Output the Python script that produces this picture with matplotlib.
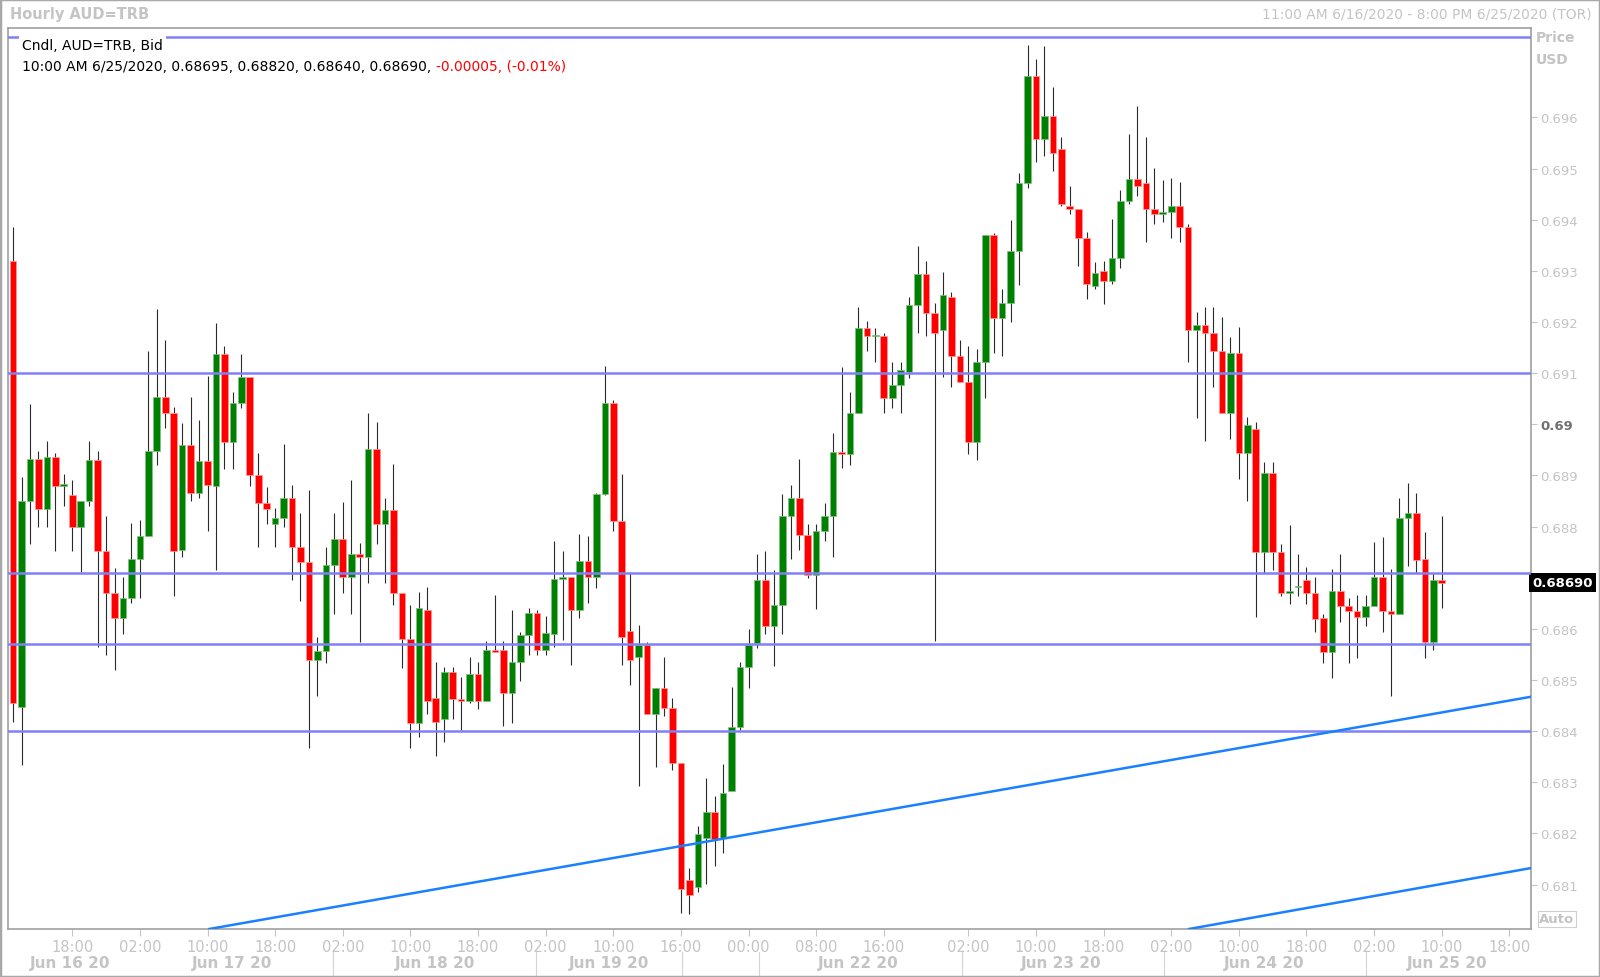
import matplotlib
matplotlib.use('Agg')
import matplotlib.pyplot as plt
import matplotlib.transforms as mtransforms
from matplotlib.patches import Rectangle
import numpy as np

# hourly candles, AUD=TRB, from 11:00 6/16/2020
opens = [
    0.69319, 0.68448, 0.68850, 0.68932, 0.68835, 0.68937, 0.68880, 0.68862, 0.68800, 0.68850,
    0.68931, 0.68752, 0.68671, 0.68621, 0.68660, 0.68737, 0.68781, 0.68947, 0.69054, 0.69023,
    0.68754, 0.68959, 0.68866, 0.68928, 0.68880, 0.69138, 0.68966, 0.69042, 0.69093, 0.68901,
    0.68847, 0.68805, 0.68817, 0.68856, 0.68760, 0.68731, 0.68539, 0.68556, 0.68725, 0.68776,
    0.68701, 0.68746, 0.68740, 0.68952, 0.68805, 0.68833, 0.68670, 0.68580, 0.68415, 0.68636,
    0.68464, 0.68423, 0.68515, 0.68463, 0.68459, 0.68511, 0.68459, 0.68559, 0.68559, 0.68475,
    0.68536, 0.68587, 0.68631, 0.68559, 0.68590, 0.68697, 0.68701, 0.68636, 0.68732, 0.68701,
    0.68863, 0.69042, 0.68811, 0.68595, 0.68544, 0.68568, 0.68434, 0.68484, 0.68446, 0.68338,
    0.68108, 0.68096, 0.68191, 0.68242, 0.68191, 0.68282, 0.68408, 0.68525, 0.68572, 0.68695,
    0.68605, 0.68646, 0.68821, 0.68856, 0.68783, 0.68705, 0.68791, 0.68821, 0.68946, 0.68942,
    0.69022, 0.69188, 0.69172, 0.69172, 0.69052, 0.69077, 0.69102, 0.69234, 0.69294, 0.69218,
    0.69184, 0.69249, 0.69133, 0.69083, 0.68966, 0.69122, 0.69370, 0.69207, 0.69238, 0.69339,
    0.69471, 0.69681, 0.69558, 0.69603, 0.69538, 0.69427, 0.69421, 0.69365, 0.69270, 0.69299,
    0.69280, 0.69325, 0.69436, 0.69480, 0.69472, 0.69421, 0.69412, 0.69415, 0.69427, 0.69386,
    0.69185, 0.69194, 0.69179, 0.69144, 0.69023, 0.69139, 0.68944, 0.68990, 0.68750, 0.68905,
    0.68750, 0.68670, 0.68681, 0.68695, 0.68671, 0.68621, 0.68555, 0.68674, 0.68645, 0.68635,
    0.68623, 0.68645, 0.68702, 0.68635, 0.68629, 0.68816, 0.68826, 0.68736, 0.68575, 0.68695,
]
highs = [
    0.69385, 0.68897, 0.69039, 0.68947, 0.68968, 0.68943, 0.68902, 0.68892, 0.68850, 0.68968,
    0.68947, 0.68821, 0.68719, 0.68702, 0.68807, 0.68812, 0.69143, 0.69225, 0.69164, 0.69033,
    0.69003, 0.69054, 0.69009, 0.69095, 0.69199, 0.69154, 0.69063, 0.69138, 0.69093, 0.68943,
    0.68878, 0.68837, 0.68962, 0.68881, 0.68827, 0.68871, 0.68585, 0.68761, 0.68827, 0.68849,
    0.68892, 0.68767, 0.69023, 0.69004, 0.68856, 0.68923, 0.68670, 0.68646, 0.68672, 0.68682,
    0.68536, 0.68526, 0.68526, 0.68505, 0.68544, 0.68536, 0.68577, 0.68667, 0.68577, 0.68636,
    0.68594, 0.68640, 0.68636, 0.68626, 0.68771, 0.68752, 0.68701, 0.68786, 0.68782, 0.68865,
    0.69114, 0.69048, 0.68902, 0.68710, 0.68607, 0.68575, 0.68484, 0.68544, 0.68465, 0.68338,
    0.68133, 0.68214, 0.68309, 0.68274, 0.68335, 0.68486, 0.68535, 0.68600, 0.68746, 0.68752,
    0.68716, 0.68863, 0.68881, 0.68932, 0.68806, 0.68806, 0.68847, 0.68983, 0.69113, 0.69063,
    0.69230, 0.69203, 0.69189, 0.69178, 0.69122, 0.69122, 0.69249, 0.69349, 0.69319, 0.69238,
    0.69298, 0.69259, 0.69164, 0.69154, 0.69148, 0.69370, 0.69374, 0.69265, 0.69399, 0.69491,
    0.69741, 0.69715, 0.69740, 0.69660, 0.69561, 0.69466, 0.69421, 0.69376, 0.69317, 0.69320,
    0.69401, 0.69458, 0.69568, 0.69622, 0.69561, 0.69502, 0.69478, 0.69481, 0.69473, 0.69392,
    0.69219, 0.69230, 0.69230, 0.69210, 0.69171, 0.69190, 0.69015, 0.69005, 0.68926, 0.68926,
    0.68765, 0.68804, 0.68746, 0.68720, 0.68702, 0.68630, 0.68717, 0.68746, 0.68660, 0.68666,
    0.68666, 0.68770, 0.68780, 0.68717, 0.68855, 0.68886, 0.68865, 0.68790, 0.68710, 0.68820,
]
lows = [
    0.68418, 0.68333, 0.68766, 0.68799, 0.68799, 0.68752, 0.68840, 0.68752, 0.68712, 0.68841,
    0.68564, 0.68549, 0.68519, 0.68590, 0.68650, 0.68660, 0.68781, 0.68921, 0.68992, 0.68664,
    0.68740, 0.68850, 0.68856, 0.68792, 0.68716, 0.68912, 0.68912, 0.69032, 0.68880, 0.68760,
    0.68805, 0.68760, 0.68799, 0.68695, 0.68655, 0.68367, 0.68469, 0.68534, 0.68630, 0.68670,
    0.68630, 0.68575, 0.68690, 0.68765, 0.68690, 0.68646, 0.68524, 0.68367, 0.68389, 0.68433,
    0.68352, 0.68378, 0.68423, 0.68402, 0.68454, 0.68444, 0.68459, 0.68555, 0.68410, 0.68415,
    0.68498, 0.68549, 0.68549, 0.68549, 0.68564, 0.68579, 0.68529, 0.68621, 0.68650, 0.68680,
    0.68862, 0.68791, 0.68529, 0.68490, 0.68293, 0.68434, 0.68330, 0.68429, 0.68323, 0.68045,
    0.68042, 0.68085, 0.68101, 0.68137, 0.68161, 0.68282, 0.68403, 0.68484, 0.68563, 0.68590,
    0.68528, 0.68590, 0.68736, 0.68755, 0.68700, 0.68639, 0.68771, 0.68740, 0.68915, 0.68921,
    0.69022, 0.69143, 0.69121, 0.69022, 0.69032, 0.69022, 0.69091, 0.69178, 0.69172, 0.68576,
    0.69092, 0.69073, 0.69083, 0.68941, 0.68931, 0.69052, 0.69140, 0.69133, 0.69201, 0.69272,
    0.69463, 0.69513, 0.69525, 0.69496, 0.69426, 0.69412, 0.69310, 0.69245, 0.69265, 0.69236,
    0.69275, 0.69305, 0.69430, 0.69446, 0.69356, 0.69392, 0.69396, 0.69365, 0.69356, 0.69122,
    0.69012, 0.68968, 0.69073, 0.69023, 0.68972, 0.68894, 0.68850, 0.68624, 0.68710, 0.68715,
    0.68664, 0.68649, 0.68664, 0.68649, 0.68593, 0.68534, 0.68504, 0.68614, 0.68534, 0.68543,
    0.68605, 0.68645, 0.68593, 0.68469, 0.68629, 0.68723, 0.68710, 0.68543, 0.68558, 0.68640,
]
closes = [
    0.68454, 0.68850, 0.68932, 0.68835, 0.68937, 0.68880, 0.68880, 0.68800, 0.68850, 0.68931,
    0.68752, 0.68671, 0.68621, 0.68661, 0.68737, 0.68781, 0.68947, 0.69054, 0.69023, 0.68752,
    0.68959, 0.68866, 0.68928, 0.68881, 0.69138, 0.68966, 0.69042, 0.69093, 0.68901, 0.68847,
    0.68835, 0.68817, 0.68856, 0.68760, 0.68731, 0.68539, 0.68556, 0.68725, 0.68776, 0.68701,
    0.68746, 0.68740, 0.68952, 0.68805, 0.68833, 0.68670, 0.68580, 0.68415, 0.68640, 0.68459,
    0.68418, 0.68515, 0.68462, 0.68459, 0.68511, 0.68459, 0.68559, 0.68555, 0.68475, 0.68536,
    0.68587, 0.68631, 0.68559, 0.68592, 0.68697, 0.68701, 0.68636, 0.68732, 0.68701, 0.68863,
    0.69042, 0.68811, 0.68585, 0.68540, 0.68568, 0.68434, 0.68484, 0.68446, 0.68338, 0.68092,
    0.68080, 0.68198, 0.68242, 0.68189, 0.68278, 0.68408, 0.68525, 0.68568, 0.68695, 0.68605,
    0.68646, 0.68821, 0.68856, 0.68783, 0.68705, 0.68791, 0.68821, 0.68946, 0.68942, 0.69022,
    0.69188, 0.69172, 0.69172, 0.69052, 0.69077, 0.69106, 0.69234, 0.69294, 0.69217, 0.69178,
    0.69253, 0.69133, 0.69083, 0.68966, 0.69122, 0.69370, 0.69207, 0.69238, 0.69339, 0.69471,
    0.69681, 0.69558, 0.69603, 0.69531, 0.69430, 0.69421, 0.69365, 0.69274, 0.69295, 0.69280,
    0.69325, 0.69436, 0.69480, 0.69466, 0.69421, 0.69412, 0.69415, 0.69427, 0.69386, 0.69185,
    0.69194, 0.69179, 0.69144, 0.69023, 0.69139, 0.68943, 0.68998, 0.68750, 0.68905, 0.68750,
    0.68670, 0.68674, 0.68681, 0.68670, 0.68619, 0.68555, 0.68674, 0.68645, 0.68634, 0.68623,
    0.68645, 0.68702, 0.68634, 0.68629, 0.68816, 0.68826, 0.68735, 0.68575, 0.68695, 0.68690,
]

# drawn support / resistance levels and trend lines (bar index, price)
level_prices = [0.69758, 0.6910, 0.6871, 0.6857, 0.6840]
trend_lines = [
    [(23.2, 0.68013), (179.5, 0.68467)],
    [(139.1, 0.68013), (179.5, 0.68132)],
]

time_tick_pos = [7, 15, 23, 31, 39, 47, 55, 63, 71, 79, 87, 95, 103,
                 113, 121, 129, 137, 145, 153, 161, 169, 177]
time_tick_labels = ['18:00', '02:00', '10:00', '18:00', '02:00', '10:00', '18:00',
                    '02:00', '10:00', '16:00', '00:00', '08:00', '16:00', '02:00',
                    '10:00', '18:00', '02:00', '10:00', '18:00', '02:00', '10:00', '18:00']
day_label_pos = [6.7, 25.9, 49.9, 70.5, 100.0, 124.0, 148.0, 169.6]
day_labels = ['Jun 16 20', 'Jun 17 20', 'Jun 18 20', 'Jun 19 20',
              'Jun 22 20', 'Jun 23 20', 'Jun 24 20', 'Jun 25 20']
day_breaks = [37.9, 61.9, 79.1, 88.2, 112.2, 136.1, 160.1]

price_ticks = [0.681, 0.682, 0.683, 0.684, 0.685, 0.686, 0.687, 0.688,
               0.689, 0.690, 0.691, 0.692, 0.693, 0.694, 0.695, 0.696]
last_price = 0.68690

W, H = 1600, 978
GREY = '#c4c4c4'
RED = '#ff0000'
GREEN = '#008000'


def fx(px):
    return px / W


def fy(py):
    return 1 - py / H


def tick_text(p):
    # the 0.687 label sits under the last-price tag, 0.69 is shown short
    if abs(p - last_price) < 0.0005:
        return ''
    if abs(p - 0.69) < 1e-9:
        return '0.69'
    return '%.3f' % p


def draw_candles(ax):
    o = np.array(opens)
    c = np.array(closes)
    x = np.arange(len(o))
    ax.vlines(x, lows, highs, color='#2a2a2a', lw=0.8, zorder=2)
    up = c >= o
    bottom = np.minimum(o, c)
    height = np.maximum(np.abs(c - o), 0.00003)
    ax.bar(x[up], height[up], bottom=bottom[up], width=0.78, color=GREEN,
           edgecolor='#7fbf7f', linewidth=0.5, zorder=3)
    ax.bar(x[~up], height[~up], bottom=bottom[~up], width=0.78, color=RED,
           edgecolor='#ff9a9a', linewidth=0.5, zorder=3)


def main():
    fig = plt.figure(figsize=(W / 100, H / 100), dpi=100)
    left, top, right, bottom = 8, 28.5, 1530.5, 930
    ax = fig.add_axes([fx(left), fy(bottom), fx(right - left), (bottom - top) / H])

    draw_candles(ax)

    for p in level_prices:
        ax.axhline(p, color='#8080f8', lw=1.8, zorder=4)
    for (x0, y0), (x1, y1) in trend_lines:
        ax.plot([x0, x1], [y0, y1], color='#1a80ff', lw=1.8, zorder=4)

    ax.set_xlim(-0.6, 179.5)
    ax.set_ylim(0.68013, 0.69776)

    for s in ax.spines.values():
        s.set_color('#a0a0a0')
        s.set_linewidth(1.2)

    ax.yaxis.tick_right()
    ax.set_yticks(price_ticks)
    ax.set_yticklabels([tick_text(p) for p in price_ticks])
    ax.tick_params(axis='y', colors=GREY, labelcolor=GREY, length=4, pad=3, labelsize=9.5)
    for lab in ax.get_yticklabels():
        if lab.get_text() == '0.69':
            lab.set_fontweight('bold')
            lab.set_color('#707070')

    ax.set_xticks(time_tick_pos)
    ax.set_xticklabels(time_tick_labels)
    ax.tick_params(axis='x', colors=GREY, labelcolor=GREY, length=5, pad=2, labelsize=10.5)

    xt = ax.get_xaxis_transform()
    ph = bottom - top
    for pos, lab in zip(day_label_pos, day_labels):
        ax.text(pos, -(964 - bottom) / ph, lab, transform=xt, ha='center', va='center',
                color=GREY, fontsize=11, fontweight='bold', clip_on=False)
    for pos in day_breaks:
        ax.plot([pos, pos], [-(953 - bottom) / ph, -(976 - bottom) / ph], transform=xt,
                color='#d4d4d4', lw=0.8, clip_on=False)

    # last price tag
    yt = mtransforms.blended_transform_factory(ax.transAxes, ax.transData)
    ax.text(1.0012, last_price, '%.5f' % last_price, transform=yt, ha='left', va='center',
            color='white', fontsize=9.5, fontweight='bold', clip_on=False,
            bbox=dict(facecolor='black', edgecolor='none', pad=2.2))

    # header texts
    fig.text(fx(10), fy(15), 'Hourly AUD=TRB', ha='left', va='center',
             color=GREY, fontsize=10.5, fontweight='bold')
    fig.text(fx(1592), fy(15), '11:00 AM 6/16/2020 - 8:00 PM 6/25/2020 (TOR)',
             ha='right', va='center', color=GREY, fontsize=10)
    fig.text(fx(1536), fy(38), 'Price', ha='left', va='center', color=GREY,
             fontsize=10, fontweight='bold')
    fig.text(fx(1536), fy(60), 'USD', ha='left', va='center', color=GREY,
             fontsize=10, fontweight='bold')
    fig.text(fx(1557), fy(920), 'Auto', ha='center', va='center', color=GREY,
             fontsize=9.5, fontweight='bold',
             bbox=dict(facecolor='white', edgecolor='#d0d0d0', pad=1.2, lw=0.8))

    # legend inside the plot
    fig.text(fx(22), fy(46), 'Cndl, AUD=TRB, Bid', ha='left', va='center',
             color='black', fontsize=10, zorder=5,
             bbox=dict(facecolor='white', edgecolor='none', pad=2.5))
    t1 = fig.text(fx(22), fy(67), '10:00 AM 6/25/2020, 0.68695, 0.68820, 0.68640, 0.68690, ',
                  ha='left', va='center', color='black', fontsize=10)
    fig.canvas.draw()
    ext = t1.get_window_extent()
    fig.text(ext.x1 / W, fy(67), '-0.00005, (-0.01%)', ha='left', va='center',
             color=RED, fontsize=10)

    fig.patches.append(Rectangle((0, 0), 1, 1, transform=fig.transFigure, fill=False,
                                 edgecolor='#a8a8a8', lw=2.5))

    fig.savefig('out.png', dpi=100)


if __name__ == '__main__':
    main()
